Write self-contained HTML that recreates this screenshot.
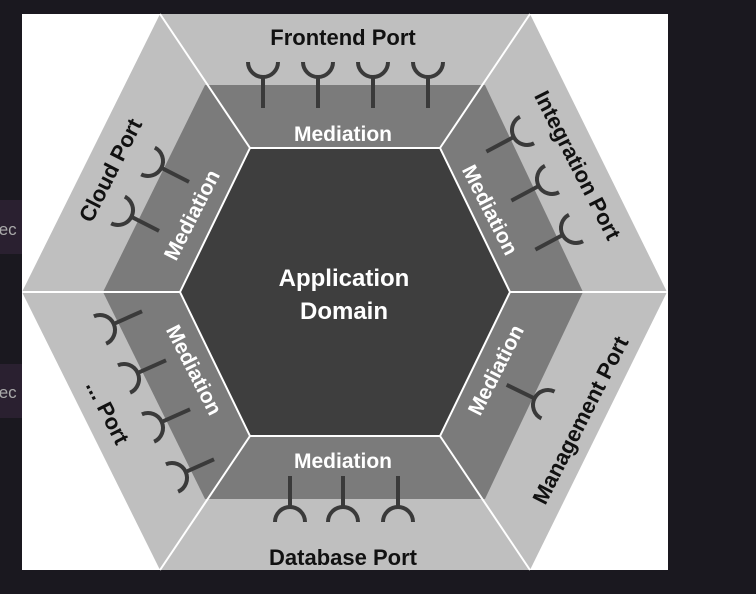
<!DOCTYPE html>
<html><head><meta charset="utf-8"><style>
html,body{margin:0;padding:0;background:#1a181f;width:756px;height:594px;overflow:hidden}
svg{display:block}
text{font-family:"Liberation Sans",Arial,sans-serif;font-weight:bold}
</style></head><body>
<svg width="756" height="594" viewBox="0 0 756 594">
<defs>
<g id="s"><path d="M-15,0 A15,15 0 0 0 15,0" fill="none" stroke="#3a3a3a" stroke-width="4"/><line x1="0" y1="15" x2="0" y2="46" stroke="#3a3a3a" stroke-width="4"/></g>
</defs>
<rect x="0" y="200" width="22" height="54" fill="#2a2030"/>
<rect x="0" y="364" width="22" height="54" fill="#2a2030"/>
<text x="-6" y="235" font-size="17" fill="#aaa" style="font-weight:normal">tec</text>
<text x="-6" y="398" font-size="17" fill="#aaa" style="font-weight:normal">tec</text>
<rect x="22" y="14" width="646" height="556" fill="#fff"/>
<polygon points="22,292 160,14 530,14 667,292 530,570 160,570" fill="#bfbfbf"/>
<polygon points="103,292 205,85 485,85 583,292 485,499 205,499" fill="#7b7b7b"/>
<polygon points="180,292 250,148 440,148 510,292 440,436 250,436" fill="#3e3e3e"/>
<g stroke="#fff" stroke-width="2" fill="none">
<polygon points="180,292 250,148 440,148 510,292 440,436 250,436"/>
<line x1="250" y1="148" x2="160" y2="14"/><line x1="440" y1="148" x2="530" y2="14"/>
<line x1="510" y1="292" x2="667" y2="292"/><line x1="440" y1="436" x2="530" y2="570"/>
<line x1="250" y1="436" x2="160" y2="570"/><line x1="180" y1="292" x2="22" y2="292"/>
</g>
<use href="#s" transform="translate(263,62)"/><use href="#s" transform="translate(318,62)"/>
<use href="#s" transform="translate(373,62)"/><use href="#s" transform="translate(428,62)"/>
<use href="#s" transform="translate(290,522) rotate(180)"/><use href="#s" transform="translate(343,522) rotate(180)"/><use href="#s" transform="translate(398,522) rotate(180)"/>
<use href="#s" transform="translate(148,161) rotate(-63)"/><use href="#s" transform="translate(118,210) rotate(-63)"/>
<use href="#s" transform="translate(527,130) rotate(62)"/><use href="#s" transform="translate(552,179) rotate(62)"/><use href="#s" transform="translate(576,228) rotate(62)"/>
<use href="#s" transform="translate(548,405) rotate(116)"/>
<use href="#s" transform="translate(100,330) rotate(-114)"/><use href="#s" transform="translate(124,379) rotate(-114)"/>
<use href="#s" transform="translate(148,428) rotate(-114)"/><use href="#s" transform="translate(172,478) rotate(-114)"/>
<g font-size="22" fill="#111" text-anchor="middle">
<text x="343" y="45">Frontend Port</text>
<text x="343" y="565">Database Port</text>
<text transform="translate(110,170) rotate(-63)" dy="8">Cloud Port</text>
<text transform="translate(578,165) rotate(63)" dy="8">Integration Port</text>
<text transform="translate(580,420) rotate(-63)" dy="8">Management Port</text>
<text transform="translate(108,412) rotate(63)" dy="8">... Port</text>
</g>
<g font-size="21" fill="#fff" text-anchor="middle">
<text x="343" y="141">Mediation</text>
<text x="343" y="468">Mediation</text>
<text transform="translate(192,215) rotate(-63)" dy="7">Mediation</text>
<text transform="translate(490,210) rotate(63)" dy="7">Mediation</text>
<text transform="translate(496,370) rotate(-63)" dy="7">Mediation</text>
<text transform="translate(194,370) rotate(63)" dy="7">Mediation</text>
</g>
<g font-size="24" fill="#fff" text-anchor="middle">
<text x="344" y="286">Application</text>
<text x="344" y="319">Domain</text>
</g>
</svg>
</body></html>
